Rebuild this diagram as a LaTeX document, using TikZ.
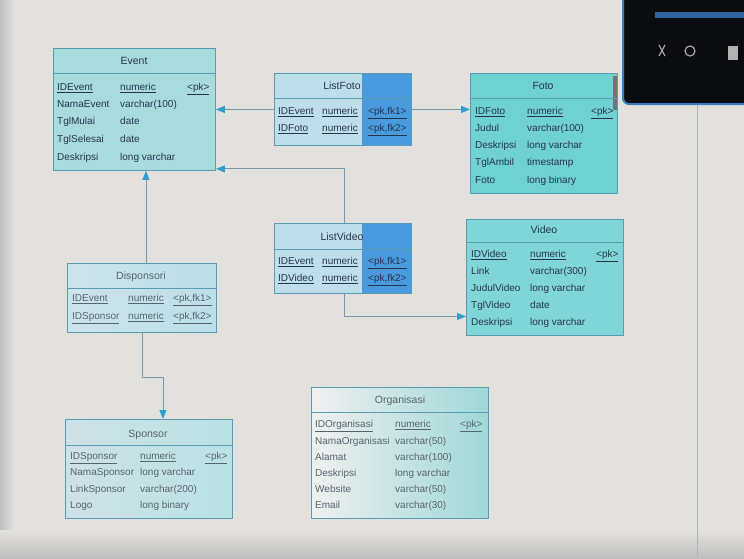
\documentclass[tikz,border=0pt]{standalone}
\usepackage{fontspec}
\setmainfont{Liberation Sans}
\usetikzlibrary{arrows.meta,calc}
\definecolor{bgc}{HTML}{E3E1DD}
\definecolor{bord}{HTML}{5A9CB4}
\definecolor{txtc}{HTML}{26344E}
\definecolor{fadetxt}{HTML}{56646F}
\definecolor{evfill}{HTML}{A8DCDC}
\definecolor{lflight}{HTML}{BEDFE9}
\definecolor{lfdark}{HTML}{4A9BDE}
\definecolor{fotofill}{HTML}{70D1D1}
\definecolor{vidfill}{HTML}{80D6D6}
\definecolor{linec}{HTML}{7C98A8}
\definecolor{arrc}{HTML}{2E9ECC}
\definecolor{panel}{HTML}{0A0C10}
\definecolor{panelb}{HTML}{3A7CC4}
\begin{document}
\begin{tikzpicture}[x=1pt,y=-1pt,
  ebox/.style={draw=bord,line width=0.9pt,anchor=north west,inner sep=0pt},
  sepline/.style={draw=bord,line width=0.8pt},
  txt/.style={anchor=base west,yshift=-3.6pt,inner sep=0pt,text=txtc,font=\fontsize{10}{11}\selectfont},
  ftxt/.style={txt,text=fadetxt},
  ttl/.style={anchor=base,yshift=-3.8pt,inner sep=0pt,text=txtc,font=\fontsize{10.5}{12}\selectfont},
  fttl/.style={ttl,text=fadetxt},
  conn/.style={draw=linec,line width=0.9pt,-{Triangle[length=9pt,width=7pt,fill=arrc,color=arrc]}}]
\useasboundingbox (0,0) rectangle (744,558);
\fill[bgc] (0,0) rectangle (744,558);
\fill[left color=black!25,right color=bgc] (0,0) rectangle (14,558);
\fill[top color=bgc,bottom color=black!25] (0,530) rectangle (744,558);
\draw[black!30,line width=1pt] (697,105) -- (697,558);
% dark panel
\draw[fill=panel,draw=panelb,line width=2pt,rounded corners=6pt] (623,-10) rectangle (760,104);
\fill[panelb!80!black] (655,12) rectangle (744,18);
\draw[gray!70,line width=1.2pt] (659,45) -- (665,56) (665,45) -- (659,56);
\draw[gray!70,line width=1.2pt] (690,51) circle (5);
\fill[gray!60] (728,46) rectangle (738,60);

% ===== Event
\node[ebox,fill=evfill,minimum width=162pt,minimum height=122pt] (event) at (53,48) {};
\draw[sepline] (53,73) -- (215,73);
\node[ttl] (evt) at (134,61) {Event};
\node[txt] (ev1a) at (57,87) {\underline{IDEvent}};
\node[txt] (ev1b) at (120,87) {\underline{numeric}};
\node[txt] (ev1c) at (187,87) {\underline{<pk>}};
\node[txt] (ev2a) at (57,104) {NamaEvent};
\node[txt] (ev2b) at (120,104) {varchar(100)};
\node[txt] (ev3a) at (57,121) {TglMulai};
\node[txt] (ev3b) at (120,121) {date};
\node[txt] (ev4a) at (57,139) {TglSelesai};
\node[txt] (ev4b) at (120,139) {date};
\node[txt] (ev5a) at (57,157) {Deskripsi};
\node[txt] (ev5b) at (120,157) {long varchar};

% ===== ListFoto
\node[ebox,fill=lflight,minimum width=137pt,minimum height=72pt] (lf) at (274,73) {};
\fill[lfdark] (362,73) rectangle (411,145);
\draw[bord,line width=0.9pt] (274,73) rectangle (411,145);
\draw[sepline] (274,98) -- (411,98);
\node[ttl] (lft) at (342,86) {ListFoto};
\node[txt] (lf1a) at (278,111) {\underline{IDEvent}};
\node[txt] (lf1b) at (322,111) {\underline{numeric}};
\node[txt] (lf1c) at (368,111) {\underline{<pk,fk1>}};
\node[txt] (lf2a) at (278,128) {\underline{IDFoto}};
\node[txt] (lf2b) at (322,128) {\underline{numeric}};
\node[txt] (lf2c) at (368,128) {\underline{<pk,fk2>}};

% ===== Foto
\node[ebox,fill=fotofill,minimum width=147pt,minimum height=120pt] (foto) at (470,73) {};
\fill[black!55] (613,76) rectangle (617,110);
\draw[sepline] (470,98) -- (617,98);
\node[ttl] (fot) at (543,86) {Foto};
\node[txt] (fo1a) at (475,111) {\underline{IDFoto}};
\node[txt] (fo1b) at (527,111) {\underline{numeric}};
\node[txt] (fo1c) at (591,111) {\underline{<pk>}};
\node[txt] (fo2a) at (475,128) {Judul};
\node[txt] (fo2b) at (527,128) {varchar(100)};
\node[txt] (fo3a) at (475,145) {Deskripsi};
\node[txt] (fo3b) at (527,145) {long varchar};
\node[txt] (fo4a) at (475,162) {TglAmbil};
\node[txt] (fo4b) at (527,162) {timestamp};
\node[txt] (fo5a) at (475,180) {Foto};
\node[txt] (fo5b) at (527,180) {long binary};

% ===== ListVideo
\node[ebox,fill=lflight,minimum width=137pt,minimum height=70pt] (lv) at (274,223) {};
\fill[lfdark] (362,223) rectangle (411,293);
\draw[bord,line width=0.9pt] (274,223) rectangle (411,293);
\draw[sepline] (274,249) -- (411,249);
\node[ttl] (lvt) at (342,237) {ListVideo};
\node[txt] (lv1a) at (278,261) {\underline{IDEvent}};
\node[txt] (lv1b) at (322,261) {\underline{numeric}};
\node[txt] (lv1c) at (368,261) {\underline{<pk,fk1>}};
\node[txt] (lv2a) at (278,278) {\underline{IDVideo}};
\node[txt] (lv2b) at (322,278) {\underline{numeric}};
\node[txt] (lv2c) at (368,278) {\underline{<pk,fk2>}};

% ===== Video
\node[ebox,fill=vidfill,minimum width=157pt,minimum height=116pt] (video) at (466,219) {};
\draw[sepline] (466,242) -- (623,242);
\node[ttl] (vit) at (544,230) {Video};
\node[txt] (vi1a) at (471,254) {\underline{IDVideo}};
\node[txt] (vi1b) at (530,254) {\underline{numeric}};
\node[txt] (vi1c) at (596,254) {\underline{<pk>}};
\node[txt] (vi2a) at (471,271) {Link};
\node[txt] (vi2b) at (530,271) {varchar(300)};
\node[txt] (vi3a) at (471,288) {JudulVideo};
\node[txt] (vi3b) at (530,288) {long varchar};
\node[txt] (vi4a) at (471,305) {TglVideo};
\node[txt] (vi4b) at (530,305) {date};
\node[txt] (vi5a) at (471,322) {Deskripsi};
\node[txt] (vi5b) at (530,322) {long varchar};

% ===== Disponsori
\node[ebox,left color=black!3!lflight!70!white,right color=lflight!90!evfill,minimum width=149pt,minimum height=69pt] (disp) at (67,263) {};
\draw[sepline] (67,288) -- (216,288);
\node[fttl] (dit) at (141,276) {Disponsori};
\node[ftxt] (di1a) at (72,298) {\underline{IDEvent}};
\node[ftxt] (di1b) at (128,298) {\underline{numeric}};
\node[ftxt] (di1c) at (173,298) {\underline{<pk,fk1>}};
\node[ftxt] (di2a) at (72,316) {\underline{IDSponsor}};
\node[ftxt] (di2b) at (128,316) {\underline{numeric}};
\node[ftxt] (di2c) at (173,316) {\underline{<pk,fk2>}};

% ===== Sponsor
\node[ebox,left color=black!8!lflight!60!white,right color=evfill!80!white,minimum width=167pt,minimum height=99pt] (sp) at (65,419) {};
\draw[sepline] (65,445) -- (232,445);
\node[fttl] (spt) at (148,434) {Sponsor};
\node[ftxt] (sp1a) at (70,456) {\underline{IDSponsor}};
\node[ftxt] (sp1b) at (140,456) {\underline{numeric}};
\node[ftxt] (sp1c) at (205,456) {\underline{<pk>}};
\node[ftxt] (sp2a) at (70,472) {NamaSponsor};
\node[ftxt] (sp2b) at (140,472) {long varchar};
\node[ftxt] (sp3a) at (70,489) {LinkSponsor};
\node[ftxt] (sp3b) at (140,489) {varchar(200)};
\node[ftxt] (sp4a) at (70,505) {Logo};
\node[ftxt] (sp4b) at (140,505) {long binary};

% ===== Organisasi
\node[ebox,left color=black!6!white,right color=evfill!95!teal,minimum width=177pt,minimum height=131pt] (org) at (311,387) {};
\draw[sepline] (311,412) -- (488,412);
\node[fttl] (ort) at (400,400) {Organisasi};
\node[ftxt] (or1a) at (315,424) {\underline{IDOrganisasi}};
\node[ftxt] (or1b) at (395,424) {\underline{numeric}};
\node[ftxt] (or1c) at (460,424) {\underline{<pk>}};
\node[ftxt] (or2a) at (315,441) {NamaOrganisasi};
\node[ftxt] (or2b) at (395,441) {varchar(50)};
\node[ftxt] (or3a) at (315,457) {Alamat};
\node[ftxt] (or3b) at (395,457) {varchar(100)};
\node[ftxt] (or4a) at (315,473) {Deskripsi};
\node[ftxt] (or4b) at (395,473) {long varchar};
\node[ftxt] (or5a) at (315,489) {Website};
\node[ftxt] (or5b) at (395,489) {varchar(50)};
\node[ftxt] (or6a) at (315,505) {Email};
\node[ftxt] (or6b) at (395,505) {varchar(30)};

% ===== connectors
\draw[conn] (lf.west) -- (lf.west -| event.east);
\draw[conn] (lf.east) -- (lf.east -| foto.west);
\draw[conn] ([xshift=1pt]lv.north) |- ([yshift=2pt]event.south east);
\draw[conn] ([xshift=1pt]lv.south) |- ([yshift=-39pt]video.west);
\draw[conn] ([xshift=4pt]disp.north) -- ([xshift=4pt]disp.north |- event.south);
\draw[conn] (disp.south) -- ++(0,45) -| ([xshift=14pt]sp.north);
\end{tikzpicture}
\end{document}
